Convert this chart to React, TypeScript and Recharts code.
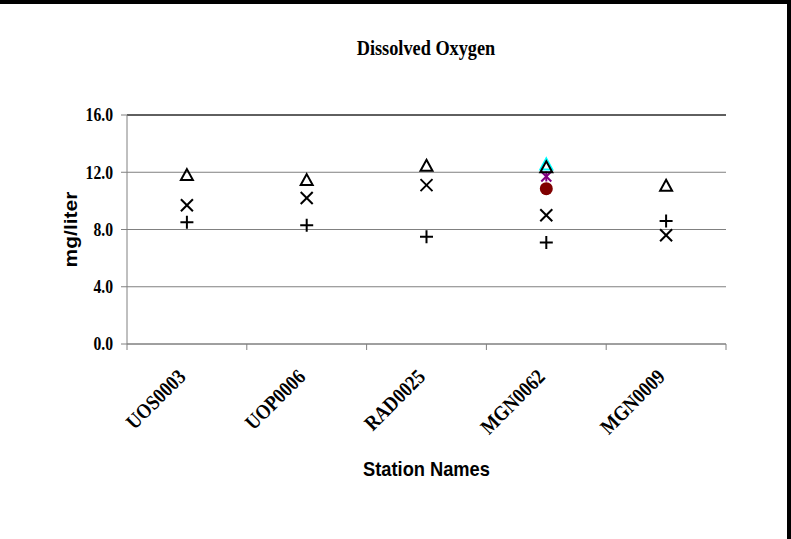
import React from 'react';
import { ScatterChart, Scatter, XAxis, YAxis, CartesianGrid, ReferenceLine, Label } from 'recharts';

const stations = ['UOS0003', 'UOP0006', 'RAD0025', 'MGN0062', 'MGN0009'];
const triangleValues = [11.8, 11.45, 12.45, 12.35, 11.05];
const crossValues = [9.7, 10.2, 11.1, 9.0, 7.6];
const plusValues = [8.5, 8.3, 7.5, 7.1, 8.6];
// extra samples, only taken at MGN0062
const cyanValues = [null, null, null, 12.55, null];
const asteriskValues = [null, null, null, 11.7, null];
const circleValues = [null, null, null, 10.85, null];
const yTicks = [0, 4, 8, 12, 16];

const SERIF = '"Liberation Serif", "Times New Roman", serif';
const SANS = '"Liberation Sans", Arial, sans-serif';
const GRID = '#808080';
const SQUEEZE = 0.87; // the original text is a bit narrow

// station i sits in the middle of its slot [i, i + 1]
const toPoints = (vals: (number | null)[]) =>
  vals
    .map((v, i) => (v == null ? null : { x: i + 0.5, y: v, station: stations[i] }))
    .filter(Boolean) as { x: number; y: number; station: string }[];

const xTicks = [...stations.flatMap((_, i) => [i, i + 0.5]), stations.length];

const Triangle = (color: string) => (p: any) => (
  <polygon
    points={`${p.cx},${p.cy - 6} ${p.cx + 6},${p.cy + 5} ${p.cx - 6},${p.cy + 5}`}
    fill="none"
    stroke={color}
    strokeWidth={2}
  />
);

const Cross = (p: any) => (
  <g stroke="#000" strokeWidth={2}>
    <line x1={p.cx - 6} y1={p.cy - 6} x2={p.cx + 6} y2={p.cy + 6} />
    <line x1={p.cx - 6} y1={p.cy + 6} x2={p.cx + 6} y2={p.cy - 6} />
  </g>
);

const Plus = (p: any) => (
  <g stroke="#000" strokeWidth={2}>
    <line x1={p.cx - 6.5} y1={p.cy} x2={p.cx + 6.5} y2={p.cy} />
    <line x1={p.cx} y1={p.cy - 6.5} x2={p.cx} y2={p.cy + 6.5} />
  </g>
);

const Asterisk = (p: any) => (
  <g stroke="#800080" strokeWidth={2}>
    <line x1={p.cx} y1={p.cy - 5} x2={p.cx} y2={p.cy + 5} />
    <line x1={p.cx - 5} y1={p.cy - 5} x2={p.cx + 5} y2={p.cy + 5} />
    <line x1={p.cx - 5} y1={p.cy + 5} x2={p.cx + 5} y2={p.cy - 5} />
  </g>
);

const Dot = (p: any) => <circle cx={p.cx} cy={p.cy} r={6.5} fill="#800000" />;

const StationTick = (props: any) => {
  const { x, y, payload } = props;
  const v = payload.value;
  if (Number.isInteger(v)) {
    return <line x1={x} y1={y - 6} x2={x} y2={y} stroke={GRID} />;
  }
  const name = stations[Math.floor(v)];
  return (
    <text
      transform={`translate(${x} ${y + 28}) rotate(-45) scale(${SQUEEZE} 1)`}
      textAnchor="end"
      fontFamily={SERIF}
      fontWeight="bold"
      fontSize={21}
      fill="#000"
    >
      {name}
    </text>
  );
};

const ValueTick = (props: any) => {
  const { x, y, payload } = props;
  return (
    <text
      transform={`translate(${x} ${y}) scale(${SQUEEZE} 1)`}
      dy="0.355em"
      textAnchor="end"
      fontFamily={SERIF}
      fontWeight="bold"
      fontSize={18}
      fill="#000"
    >
      {Number(payload.value).toFixed(1)}
    </text>
  );
};

export default function App() {
  return (
    <div style={{ position: 'absolute', left: 0, top: 0, width: 791, height: 539, background: '#fff' }}>
      <ScatterChart width={791} height={539} margin={{ top: 115, right: 65, bottom: 0, left: 0 }}>
        <CartesianGrid vertical={false} stroke={GRID} />
        <XAxis
          type="number"
          dataKey="x"
          domain={[0, stations.length]}
          ticks={xTicks}
          interval={0}
          allowDataOverflow
          height={195}
          stroke={GRID}
          tickLine={false}
          tickSize={6}
          tickMargin={0}
          tick={<StationTick />}
        >
          <Label
            content={({ viewBox }: any) => (
              <text
                transform={`translate(${viewBox.x + viewBox.width / 2} ${viewBox.y + 132}) scale(${SQUEEZE} 1)`}
                textAnchor="middle"
                fontFamily={SANS}
                fontWeight="bold"
                fontSize={21}
                fill="#000"
              >
                Station Names
              </text>
            )}
          />
        </XAxis>
        <YAxis
          type="number"
          dataKey="y"
          domain={[0, 16]}
          ticks={yTicks}
          interval={0}
          width={127}
          stroke={GRID}
          tickSize={6}
          tickMargin={8}
          tick={<ValueTick />}
        >
          <Label
            content={({ viewBox }: any) => (
              <text
                transform={`translate(77 ${viewBox.y + viewBox.height / 2}) scale(${SQUEEZE} 1) rotate(-90)`}
                textAnchor="middle"
                fontFamily={SANS}
                fontWeight="bold"
                fontSize={21}
                fill="#000"
              >
                mg/liter
              </text>
            )}
          />
        </YAxis>
        <ReferenceLine y={16} stroke="#000" />
        <Scatter data={toPoints(cyanValues)} shape={Triangle('#00FFFF')} isAnimationActive={false} />
        <Scatter data={toPoints(asteriskValues)} shape={Asterisk} isAnimationActive={false} />
        <Scatter data={toPoints(circleValues)} shape={Dot} isAnimationActive={false} />
        <Scatter data={toPoints(triangleValues)} shape={Triangle('#000')} isAnimationActive={false} />
        <Scatter data={toPoints(crossValues)} shape={Cross} isAnimationActive={false} />
        <Scatter data={toPoints(plusValues)} shape={Plus} isAnimationActive={false} />
      </ScatterChart>
      <div
        style={{
          position: 'absolute',
          left: 426,
          top: 38,
          transform: `translateX(-50%) scaleX(${SQUEEZE})`,
          fontFamily: SERIF,
          fontWeight: 'bold',
          fontSize: 21,
          lineHeight: '21px',
          whiteSpace: 'nowrap',
          color: '#000',
        }}
      >
        Dissolved Oxygen
      </div>
      <div
        style={{
          position: 'absolute',
          inset: 0,
          borderTop: '4px solid #000',
          borderRight: '4px solid #000',
          boxSizing: 'border-box',
          pointerEvents: 'none',
        }}
      />
    </div>
  );
}
